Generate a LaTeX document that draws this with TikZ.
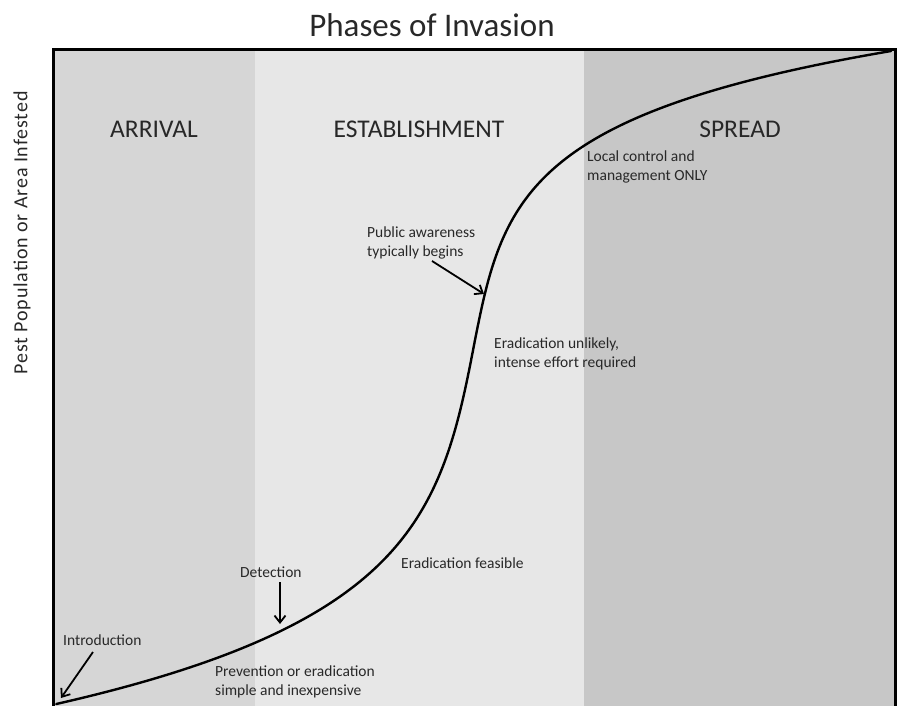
\documentclass[tikz,border=0pt]{standalone}
\usepackage{fontspec}
\setmainfont{Carlito}
\usetikzlibrary{arrows.meta}
\definecolor{arrivalgray}{RGB}{214,214,214}
\definecolor{establishgray}{RGB}{231,231,231}
\definecolor{spreadgray}{RGB}{199,199,199}
\definecolor{txtgray}{RGB}{40,40,40}
\tikzset{
  phase/.style={font=\fontsize{25.5}{30}\selectfont, text=txtgray},
  note/.style={font=\fontsize{15.5}{18.5}\selectfont, text=txtgray, anchor=west, align=left, inner sep=0pt},
  pointer/.style={line width=1.8pt, -{Straight Barb[length=7pt,width=11pt,line width=1.8pt]}},
  curveline/.style={line width=2.4pt, line cap=round, line join=round},
}
\begin{document}
\begin{tikzpicture}[x=1pt,y=-1pt]
\useasboundingbox (0,0) rectangle (899,706);
% bands
\fill[arrivalgray] (53,50) rectangle (255,710);
\fill[establishgray] (255,50) rectangle (584,710);
\fill[spreadgray] (584,50) rectangle (895,710);
% frame
\draw[line width=3pt] (53,712) -- (53,50) -- (895,50) -- (895,712);
% title and axis label
\node[font=\fontsize{33}{38}\selectfont, text=txtgray] (title) at (432,25) {Phases of Invasion};
\node[font=\fontsize{20}{24}\selectfont\addfontfeature{LetterSpace=4.3}, text=txtgray, rotate=90] (ylabel) at (22,233) {Pest Population or Area Infested};
% phase labels
\node[phase] (arrival) at (154,129) {ARRIVAL};
\node[phase] (establishment) at (419,129) {ESTABLISHMENT};
\node[phase] (spread) at (740,129) {SPREAD};
% curve
\draw[curveline, variable=\t]
  plot[domain=704:340, samples=120] ({475-18.35*sinh(0.0105*(\t-340))},{\t})
  -- plot[domain=340:51, samples=120] ({475+14.15*sinh(0.0141*(340-\t))},{\t});
% notes
\node[note] (intro) at (63,640) {Introduction};
\node[note] (detect) at (240,572) {Detection};
\node[note] (prevent) at (215,682) {Prevention or eradication\\simple and inexpensive};
\node[note] (feasible) at (401,563) {Eradication feasible};
\node[note] (public) at (367,243) {Public awareness\\typically begins};
\node[note] (unlikely) at (494,354) {Eradication unlikely,\\intense effort required};
\node[note] (local) at (587,167) {Local control and\\management ONLY};
% arrow ends
\coordinate (introS) at (93,652);
\coordinate (introE) at (61,698);
\coordinate (detS) at (280,582);
\coordinate (detE) at (280,624);
\coordinate (pubS) at (432,261);
\coordinate (pubE) at (484,294);
\draw[pointer] (introS) -- (introE);
\draw[pointer] (detS) -- (detE);
\draw[pointer] (pubS) -- (pubE);
\end{tikzpicture}
\end{document}
